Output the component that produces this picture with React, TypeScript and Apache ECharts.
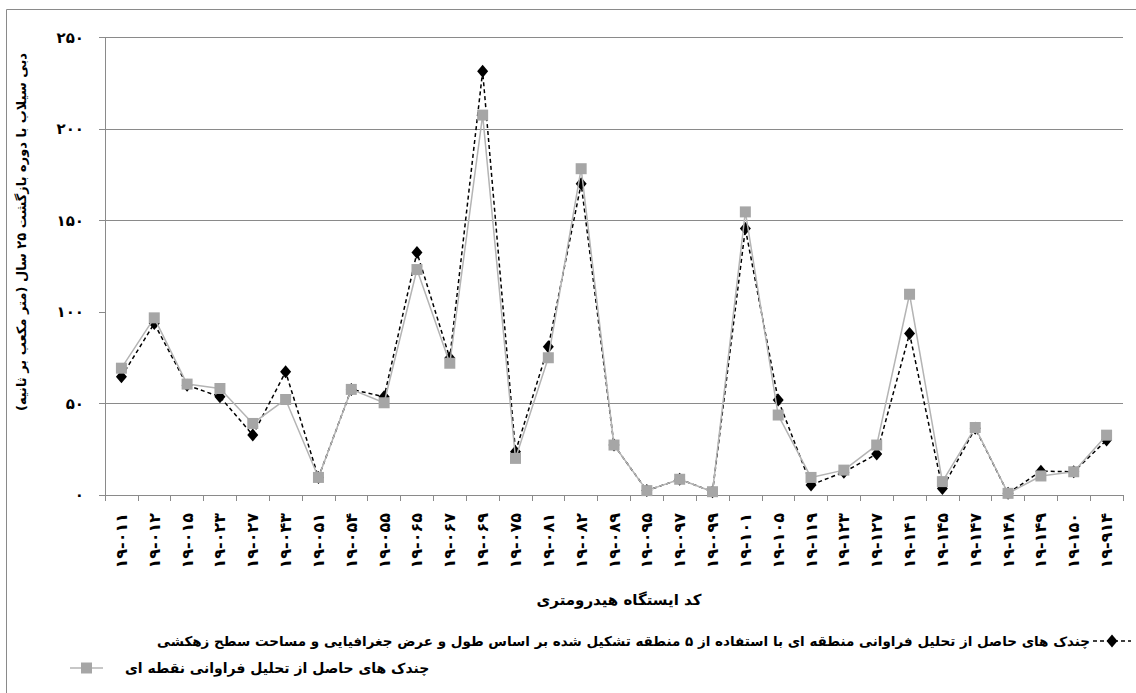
import React, { useEffect, useRef } from "react";
import * as echarts from "echarts";

const stations = [
  "۱۹-۰۱۱", "۱۹-۰۱۲", "۱۹-۰۱۵", "۱۹-۰۲۳", "۱۹-۰۲۷", "۱۹-۰۴۳", "۱۹-۰۵۱", "۱۹-۰۵۴",
  "۱۹-۰۵۵", "۱۹-۰۶۵", "۱۹-۰۶۷", "۱۹-۰۶۹", "۱۹-۰۷۵", "۱۹-۰۸۱", "۱۹-۰۸۲", "۱۹-۰۸۹",
  "۱۹-۰۹۵", "۱۹-۰۹۷", "۱۹-۰۹۹", "۱۹-۱۰۱", "۱۹-۱۰۵", "۱۹-۱۱۹", "۱۹-۱۲۳", "۱۹-۱۲۷",
  "۱۹-۱۴۱", "۱۹-۱۴۵", "۱۹-۱۴۷", "۱۹-۱۴۸", "۱۹-۱۴۹", "۱۹-۱۵۰", "۱۹-۹۱۴",
];

const regionalQuantiles = [
  64.6, 93.7, 60, 53.7, 32.8, 67.3, 9.6, 57.7, 53.7, 132.5, 74.8, 231.5, 23.7, 81, 170.1, 27.3,
  2.4, 8.6, 1.8, 145.6, 51.9, 5.5, 12.5, 22.4, 88.2, 3.6, 36.5, 0.9, 13, 12.7, 30,
];

const pointQuantiles = [
  69.3, 96.8, 60.6, 58.2, 39.1, 52.2, 9.6, 57.7, 50.4, 123.2, 72, 207.6, 20, 75, 178.3, 27.3,
  2.4, 8.6, 1.8, 154.7, 43.7, 9.6, 13.6, 27.3, 109.7, 7.3, 36.9, 0.9, 10.4, 12.7, 32.7,
];

const yTickLabels = ["۰", "۵۰", "۱۰۰", "۱۵۰", "۲۰۰", "۲۵۰"];

const RLM = "\u200F";

const yTitle = "دبی سیلاب با دوره بازگشت ۲۵ سال (متر مکعب بر ثانیه)";
const xTitle = "کد ایستگاه هیدرومتری";
const seriesNames = [
  "چندک های حاصل از تحلیل فراوانی منطقه ای با استفاده از ۵ منطقه تشکیل شده بر اساس طول و عرض جغرافیایی و مساحت سطح زهکشی",
  "چندک های حاصل از تحلیل فراوانی نقطه ای",
];

const FONT = "'DejaVu Sans', sans-serif";
const AXIS_GRAY = "#8a8a8a";
const SQUARE_GRAY = "#a6a6a6";

// Right-to-left line built from one rich token per word (last word placed leftmost)
const rtlTokens = (s: string) =>
  s
    .split(" ")
    .reverse()
    .map((w) => "{w|" + RLM + w + RLM + "}")
    .join(" ");

const label = (s: string, x: number, y: number, size: number, align: string, rotation = 0) => ({
  type: "text",
  x,
  y,
  rotation,
  style: {
    text: rtlTokens(s),
    fontFamily: FONT,
    fontWeight: "bold",
    fontSize: size,
    fill: "#000",
    align,
    verticalAlign: "middle",
    rich: {
      w: { fontFamily: FONT, fontWeight: "bold", fontSize: size, fill: "#000" },
    },
  },
});

export default function App() {
  const ref = useRef<HTMLDivElement>(null);

  useEffect(() => {
    if (!ref.current) return;
    const chart = echarts.init(ref.current, undefined, { renderer: "svg" });
    const splitColors = [AXIS_GRAY, AXIS_GRAY, "rgba(0,0,0,0)", AXIS_GRAY, AXIS_GRAY, AXIS_GRAY];
    chart.setOption({
      animation: false,
      backgroundColor: "#ffffff",
      grid: { left: 105, top: 37.5, width: 1018, height: 457.5 },
      xAxis: {
        type: "category",
        data: stations,
        boundaryGap: true,
        axisLine: { lineStyle: { color: AXIS_GRAY, width: 1 } },
        axisTick: { show: true, alignWithLabel: false, length: 6, lineStyle: { color: AXIS_GRAY } },
        axisLabel: {
          rotate: 90,
          interval: 0,
          margin: 18,
          color: "#000",
          fontFamily: FONT,
          fontWeight: "bold",
          fontSize: 16,
        },
        splitLine: { show: false },
      },
      yAxis: {
        type: "value",
        min: 0,
        max: 250,
        interval: 50,
        axisLine: { show: true, lineStyle: { color: AXIS_GRAY, width: 1 } },
        axisTick: { show: true, length: 6, lineStyle: { color: AXIS_GRAY } },
        axisLabel: {
          margin: 21,
          color: "#000",
          fontFamily: FONT,
          fontWeight: "bold",
          fontSize: 15,
          formatter: (v: number) => yTickLabels[Math.round(v / 50)] ?? "",
        },
        splitLine: { show: true, lineStyle: { color: splitColors, width: 1 } },
      },
      series: [
        {
          name: seriesNames[0],
          type: "line",
          data: regionalQuantiles,
          symbol: "diamond",
          symbolSize: [11, 13],
          z: 2,
          lineStyle: { color: "#000", width: 1.5, type: [4, 3] },
          itemStyle: { color: "#000" },
        },
        {
          name: seriesNames[1],
          type: "line",
          data: pointQuantiles,
          symbol: "rect",
          symbolSize: 11,
          z: 3,
          lineStyle: { color: "#b4b4b4", width: 1.5, type: "solid" },
          itemStyle: { color: SQUARE_GRAY },
        },
      ],
      graphic: [
        {
          type: "rect",
          silent: true,
          shape: { x: 6.5, y: 9.5, width: 1150, height: 700 },
          style: { fill: "none", stroke: AXIS_GRAY, lineWidth: 1 },
        },
        label(yTitle, 21, 232, 13, "center", Math.PI / 2),
        label(xTitle, 619, 600, 15, "center"),
        label(seriesNames[0], 1090, 641, 13.5, "right"),
        {
          type: "line",
          shape: { x1: 1093, y1: 641, x2: 1131, y2: 641 },
          style: { stroke: "#000", lineWidth: 1.5, lineDash: [4, 3] },
        },
        {
          type: "polygon",
          shape: { points: [[1112, 634.5], [1117.5, 641], [1112, 647.5], [1106.5, 641]] },
          style: { fill: "#000" },
        },
        {
          type: "line",
          shape: { x1: 70, y1: 668, x2: 103, y2: 668 },
          style: { stroke: "#b4b4b4", lineWidth: 1.5 },
        },
        {
          type: "rect",
          shape: { x: 81, y: 662.5, width: 11, height: 11 },
          style: { fill: SQUARE_GRAY },
        },
        label(seriesNames[1], 125, 668, 14, "left"),
      ],
    });
    return () => chart.dispose();
  }, []);

  return (
    <div
      ref={ref}
      style={{ position: "fixed", left: 0, top: 0, width: 1136, height: 693, background: "#fff" }}
    />
  );
}
